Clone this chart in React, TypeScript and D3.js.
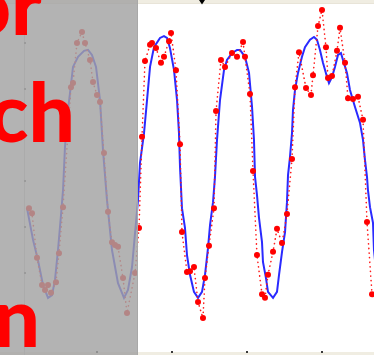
import React from "react";
import * as d3 from "d3";

const W = 374;
const H = 355;

// model curve (blue): time t, value v
const modelT = [0.67,1.47,2.13,2.8,3.47,4.0,4.4,4.8,5.2,5.47,5.73,6.13,6.4,6.8,7.47,8.27,8.8,9.33,9.87,10.4,10.8,11.33,12.0,12.8,13.6,14.13,14.67,15.07,15.47,15.73,16.27,16.67,17.07,17.6,18.4,18.93,19.33,19.73,20.27,20.67,20.93,21.07,21.33,21.73,22.0,22.4,22.93,23.47,24.0,24.4,24.8,25.07,25.47,25.73,26.0,26.4,26.93,27.33,28.0,28.67,29.07,29.73,30.27,30.67,30.93,31.07,31.33,31.6,32.0,32.13,32.53,32.8,33.47,34.0,34.27,34.67,35.07,35.33,35.47,35.73,36.0,36.13,36.4,36.8,37.33,37.73,38.4,38.93,39.33,39.73,40.13,40.67,40.93,41.33,41.73,42.13,42.53,42.8,43.33,43.73,44.4,45.07,45.47,45.73,46.0,46.13,46.4,46.8,46.93,47.2];
const modelV = [2.41,1.72,1.28,0.74,0.46,0.52,0.85,1.5,2.26,2.8,3.74,4.54,4.91,5.48,5.7,5.83,5.85,5.74,5.48,4.76,3.67,2.59,1.5,0.78,0.46,0.63,1.13,1.87,2.59,3.39,4.04,4.76,5.48,5.91,6.11,6.15,6.11,5.89,5.41,4.76,4.04,3.3,2.41,1.98,1.39,0.96,0.59,0.46,0.59,0.96,1.54,2.04,2.54,3.09,3.89,4.76,5.41,5.63,5.78,5.85,5.85,5.7,5.35,4.61,3.89,3.09,2.7,2.2,1.67,1.24,0.89,0.59,0.46,0.59,0.96,1.46,1.89,2.54,3.13,3.52,4.04,4.54,4.98,5.35,5.7,5.91,6.07,6.13,6.07,5.85,5.57,5.26,5.13,5.26,5.48,5.74,5.78,5.63,5.35,4.98,4.61,4.26,3.89,3.46,3.09,2.8,2.43,2.09,1.5,1.07];

// observations (red)
const obsT = [0.93,1.33,2.0,2.67,3.07,3.47,3.87,4.53,4.93,5.47,6.53,6.8,7.33,8.0,8.4,9.07,9.47,10.0,10.4,10.93,11.47,12.0,12.4,12.8,13.47,14.0,15.07,15.6,16.0,16.4,17.07,17.33,17.87,18.53,18.93,19.6,19.87,20.53,21.07,21.33,22.0,22.4,22.93,23.47,24.13,24.4,24.93,25.6,25.87,26.53,27.07,28.0,28.67,29.47,29.73,30.4,30.8,31.33,32.0,32.4,32.8,33.47,34.0,34.67,35.33,36.0,36.4,36.93,37.87,38.53,38.8,39.47,40.0,40.53,40.8,41.33,42.0,42.4,43.07,43.47,44.13,44.8,45.47,46.0,46.67];
const obsV = [2.41,2.3,1.33,0.74,0.63,0.74,0.57,0.8,1.43,2.43,5.04,5.13,6.0,6.24,6.0,5.63,5.15,4.87,4.72,3.61,2.33,1.67,1.61,1.57,0.89,0.13,1.0,1.98,3.96,5.61,5.96,6.0,5.89,5.57,5.7,6.04,6.22,5.41,3.8,1.89,1.02,1.04,1.13,0.37,0.02,0.89,1.59,2.41,4.52,5.63,5.48,5.78,5.7,6.02,5.7,4.89,3.22,1.39,0.54,0.46,0.96,1.46,1.96,1.65,2.28,3.48,5.04,5.8,5.02,4.87,5.3,6.37,6.72,5.91,5.24,5.28,5.83,6.33,5.57,4.8,4.78,4.83,4.33,2.11,0.54];

const xTicks = [10, 20, 30, 40];
const yTicks = [1, 2, 3, 4, 5, 6];
const cursorT = 24;
const shadeEndT = 15.33;

const labels = ["or", "ch", "n"];

export default function App() {
  const x = d3.scaleLinear().domain([0, 50]).range([22, 397]);
  const y = d3.scaleLinear().domain([0, 7]).range([319, -3]);

  const model = modelT.map((t, i) => [t, modelV[i]] as [number, number]);
  const obs = obsT.map((t, i) => [t, obsV[i]] as [number, number]);

  const line = d3
    .line<[number, number]>()
    .x((d) => x(d[0]))
    .y((d) => y(d[1]));

  const shadeX = Math.round(x(shadeEndT));
  const cx = x(cursorT);

  const labelPos = [
    { x: 42, y: 35 },
    { x: 75, y: 142 },
    { x: 40, y: 347 },
  ];

  return (
    <svg
      width={W}
      height={H}
      style={{ position: "absolute", left: 0, top: 0, display: "block" }}
    >
      <rect x={0} y={0} width={W} height={H} fill="#ffffff" />
      {/* top strip */}
      <rect x={0} y={0} width={W} height={3} fill="#f0ede2" />
      <line x1={0} x2={W} y1={3.5} y2={3.5} stroke="#e8e4d8" strokeWidth={1} />
      {/* bottom strip */}
      <rect x={0} y={352} width={W} height={3} fill="#f0ede2" />
      {xTicks.map((t) => (
        <rect key={t} x={Math.round(x(t)) - 1} y={351} width={2} height={2} fill="#3a3a3a" />
      ))}
      {/* y axis */}
      <line x1={24.5} x2={24.5} y1={0} y2={H} stroke="#d0d0d0" strokeWidth={1} />
      {yTicks.map((v) => (
        <rect key={v} x={24} y={Math.round(y(v)) - 1} width={2} height={2} fill="#777" />
      ))}
      {/* model */}
      <path d={line(model) || ""} fill="none" stroke="#2a2aff" strokeWidth={2} />
      {/* observations dotted */}
      <path
        d={line(obs) || ""}
        fill="none"
        stroke="#ff1a1a"
        strokeWidth={1.6}
        strokeDasharray="0.2 4.4"
        strokeLinecap="round"
      />
      {obs.map((d, i) => (
        <circle key={i} cx={x(d[0])} cy={y(d[1])} r={3} fill="#ff0000" />
      ))}
      {/* cursor triangle */}
      <path d={`M${cx - 3},0 L${cx + 3},0 L${cx},4.5 Z`} fill="#000" />
      {/* shaded region */}
      <rect x={0} y={0} width={shadeX} height={H} fill="#a2a2a2" opacity={0.82} />
      <line x1={shadeX + 0.5} x2={shadeX + 0.5} y1={0} y2={H} stroke="#a8a8a8" strokeWidth={1} />
      {labels.map((s, i) => (
        <text
          key={s}
          x={labelPos[i].x}
          y={labelPos[i].y}
          textAnchor="end"
          fontFamily="Lato, 'Open Sans', sans-serif"
          fontWeight={900}
          fontSize={82}
          fill="#ff0000"
        >
          {s}
        </text>
      ))}
    </svg>
  );
}
